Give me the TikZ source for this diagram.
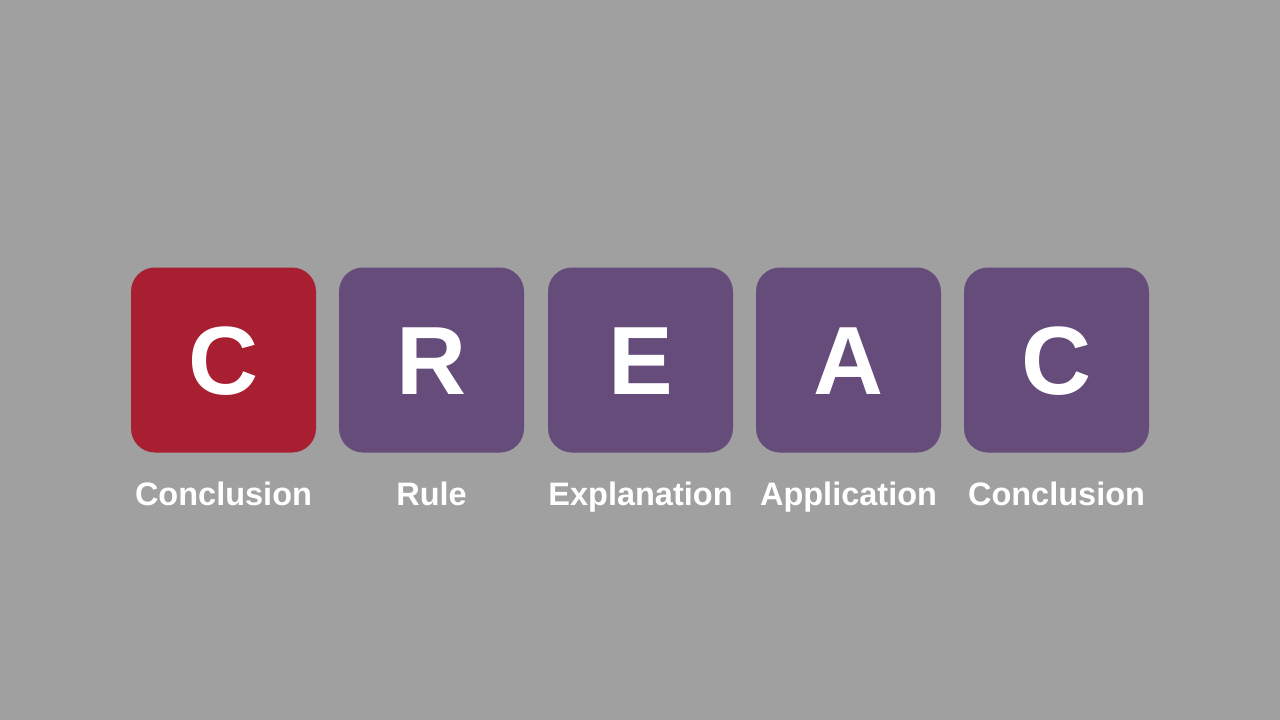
\documentclass[tikz,border=0pt]{standalone}
\usepackage{fontspec}
\setmainfont{Liberation Sans}
\definecolor{bg}{HTML}{9FA09F}
\definecolor{cred}{HTML}{A91F32}
\definecolor{cpurple}{HTML}{654C7B}
\begin{document}
\begin{tikzpicture}[x=1pt,y=-1pt,
  tile/.style={minimum width=185pt,minimum height=185pt,rounded corners=24pt,inner sep=0pt,text=white,text height=69.5pt,text depth=0pt,font=\fontsize{97}{97}\selectfont\bfseries},
  lbl/.style={anchor=base,text=white,inner sep=0pt,font=\fontsize{32.5}{32.5}\selectfont\bfseries}]
\fill[bg] (0,0) rectangle (1280,720);
\useasboundingbox (0,0) rectangle (1280,720);
\node[tile,fill=cred] (t1) at (223.5,360) {C};
\node[tile,fill=cpurple] (t2) at (431.5,360) {R};
\node[tile,fill=cpurple] (t3) at (640.5,360) {E};
\node[tile,fill=cpurple] (t4) at (848.5,360) {A};
\node[tile,fill=cpurple] (t5) at (1056.5,360) {C};
\node[lbl] (l1) at (223.5,505) {Conclusion};
\node[lbl] (l2) at (431.5,505) {Rule};
\node[lbl] (l3) at (640.5,505) {Explanation};
\node[lbl] (l4) at (848.5,505) {Application};
\node[lbl] (l5) at (1056.5,505) {Conclusion};
\end{tikzpicture}
\end{document}
